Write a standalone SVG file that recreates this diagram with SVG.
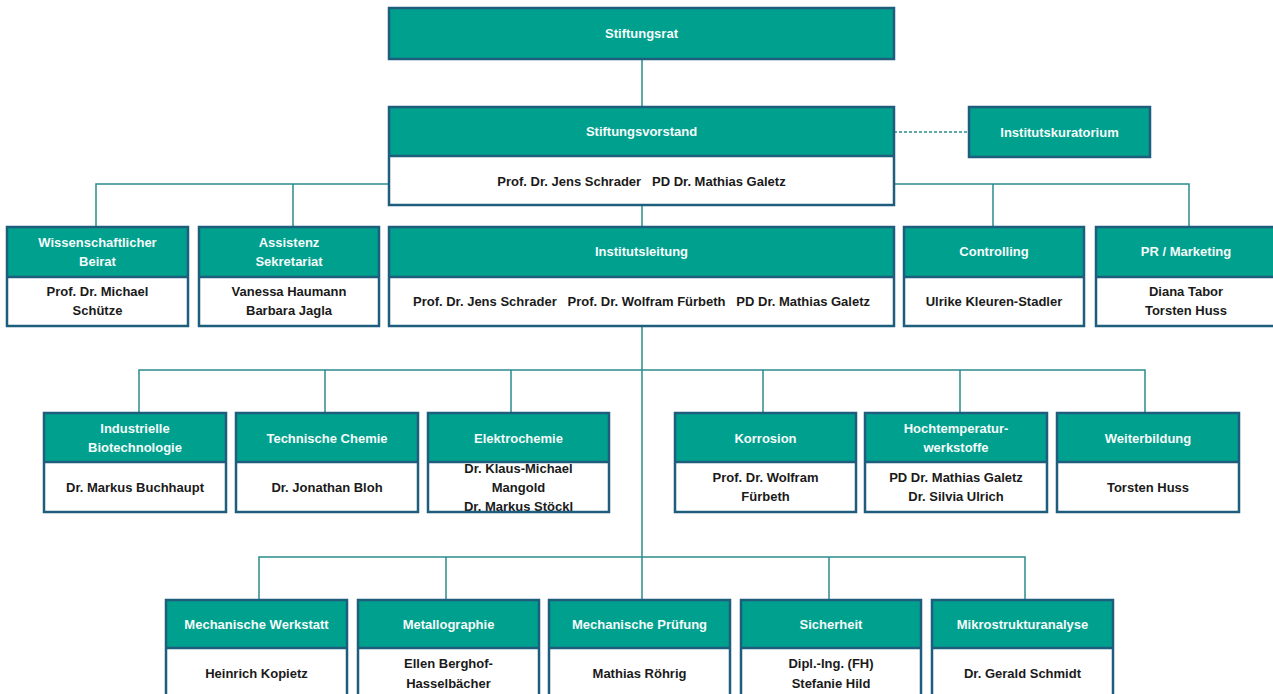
<svg xmlns="http://www.w3.org/2000/svg" width="1273" height="694" viewBox="0 0 1273 694">
<style>
.hd{fill:#00A08E;}
.bd{fill:#ffffff;}
.fr{fill:none;stroke:#1E5E7C;stroke-width:2.5;}
.dv{stroke:#1E5E7C;stroke-width:2.5;}
.ht{font-family:"Liberation Sans",Arial,sans-serif;font-weight:bold;font-size:13px;fill:#F4FBFA;text-anchor:middle;}
.bt{font-family:"Liberation Sans",Arial,sans-serif;font-weight:bold;font-size:13px;fill:#1A1A1A;text-anchor:middle;}
.cn{fill:none;stroke:#2B8C8E;stroke-width:1.5;}
</style>
<rect width="1273" height="694" fill="#ffffff"/>
<g id="connectors">
<path class="cn" d="M642,59V107M642,205V227M642,326V600"/>
<path class="cn" d="M96,227V184H1189V227M293,184V227M993,184V227"/>
<path class="cn" d="M139,413V370H1145V413M325,370V413M511,370V413M763,370V413M960,370V413"/>
<path class="cn" d="M259,600V557H1025V600M446,557V600M829,557V600"/>
<path class="cn" d="M894,132H969" stroke-dasharray="3,2"/>
</g>
<g id="stiftungsrat">
<rect class="hd" x="389" y="8" width="505" height="51"/>
<rect class="fr" x="389" y="8" width="505" height="51"/>
<text class="ht" x="641.5" y="38">Stiftungsrat</text>
</g>
<g id="stiftungsvorstand">
<rect class="hd" x="389" y="107" width="505" height="49"/>
<rect class="bd" x="389" y="156" width="505" height="49"/>
<line class="dv" x1="389" y1="156" x2="894" y2="156"/>
<rect class="fr" x="389" y="107" width="505" height="98"/>
<text class="ht" x="641.5" y="136">Stiftungsvorstand</text>
<text class="bt" x="641.5" y="186" xml:space="preserve">Prof. Dr. Jens Schrader   PD Dr. Mathias Galetz</text>
</g>
<g id="institutskuratorium">
<rect class="hd" x="969" y="107" width="181" height="50"/>
<rect class="fr" x="969" y="107" width="181" height="50"/>
<text class="ht" x="1059.5" y="136.5">Institutskuratorium</text>
</g>
<g id="wissenschaftlicher-beirat">
<rect class="hd" x="7" y="227" width="181" height="50"/>
<rect class="bd" x="7" y="277" width="181" height="49"/>
<line class="dv" x1="7" y1="277" x2="188" y2="277"/>
<rect class="fr" x="7" y="227" width="181" height="99"/>
<text class="ht" x="97.5" y="247">Wissenschaftlicher</text>
<text class="ht" x="97.5" y="266">Beirat</text>
<text class="bt" x="97.5" y="296">Prof. Dr. Michael</text>
<text class="bt" x="97.5" y="315">Schütze</text>
</g>
<g id="assistenz-sekretariat">
<rect class="hd" x="199" y="227" width="180" height="50"/>
<rect class="bd" x="199" y="277" width="180" height="49"/>
<line class="dv" x1="199" y1="277" x2="379" y2="277"/>
<rect class="fr" x="199" y="227" width="180" height="99"/>
<text class="ht" x="289" y="247">Assistenz</text>
<text class="ht" x="289" y="266">Sekretariat</text>
<text class="bt" x="289" y="296">Vanessa Haumann</text>
<text class="bt" x="289" y="315">Barbara Jagla</text>
</g>
<g id="institutsleitung">
<rect class="hd" x="389" y="227" width="505" height="50"/>
<rect class="bd" x="389" y="277" width="505" height="49"/>
<line class="dv" x1="389" y1="277" x2="894" y2="277"/>
<rect class="fr" x="389" y="227" width="505" height="99"/>
<text class="ht" x="641.5" y="256">Institutsleitung</text>
<text class="bt" x="641.5" y="306" xml:space="preserve">Prof. Dr. Jens Schrader   Prof. Dr. Wolfram Fürbeth   PD Dr. Mathias Galetz</text>
</g>
<g id="controlling">
<rect class="hd" x="904" y="227" width="180" height="50"/>
<rect class="bd" x="904" y="277" width="180" height="49"/>
<line class="dv" x1="904" y1="277" x2="1084" y2="277"/>
<rect class="fr" x="904" y="227" width="180" height="99"/>
<text class="ht" x="994" y="256">Controlling</text>
<text class="bt" x="994" y="306">Ulrike Kleuren-Stadler</text>
</g>
<g id="pr-marketing">
<rect class="hd" x="1096" y="227" width="181" height="50"/>
<rect class="bd" x="1096" y="277" width="181" height="49"/>
<line class="dv" x1="1096" y1="277" x2="1277" y2="277"/>
<rect class="fr" x="1096" y="227" width="181" height="99"/>
<text class="ht" x="1186" y="256">PR / Marketing</text>
<text class="bt" x="1186" y="296">Diana Tabor</text>
<text class="bt" x="1186" y="315">Torsten Huss</text>
</g>
<g id="industrielle-biotechnologie">
<rect class="hd" x="44" y="413" width="182" height="49"/>
<rect class="bd" x="44" y="462" width="182" height="50"/>
<line class="dv" x1="44" y1="462" x2="226" y2="462"/>
<rect class="fr" x="44" y="413" width="182" height="99"/>
<text class="ht" x="135" y="433">Industrielle</text>
<text class="ht" x="135" y="452">Biotechnologie</text>
<text class="bt" x="135" y="492">Dr. Markus Buchhaupt</text>
</g>
<g id="technische-chemie">
<rect class="hd" x="236" y="413" width="182" height="49"/>
<rect class="bd" x="236" y="462" width="182" height="50"/>
<line class="dv" x1="236" y1="462" x2="418" y2="462"/>
<rect class="fr" x="236" y="413" width="182" height="99"/>
<text class="ht" x="327" y="442.5">Technische Chemie</text>
<text class="bt" x="327" y="492">Dr. Jonathan Bloh</text>
</g>
<g id="elektrochemie">
<rect class="hd" x="428" y="413" width="181" height="49"/>
<rect class="bd" x="428" y="462" width="181" height="50"/>
<line class="dv" x1="428" y1="462" x2="609" y2="462"/>
<text class="ht" x="518.5" y="442.5">Elektrochemie</text>
<text class="bt" x="518.5" y="473">Dr. Klaus-Michael</text>
<text class="bt" x="518.5" y="492">Mangold</text>
<text class="bt" x="518.5" y="511">Dr. Markus Stöckl</text>
<rect class="fr" x="428" y="413" width="181" height="99"/>
</g>
<g id="korrosion">
<rect class="hd" x="675" y="413" width="181" height="49"/>
<rect class="bd" x="675" y="462" width="181" height="50"/>
<line class="dv" x1="675" y1="462" x2="856" y2="462"/>
<rect class="fr" x="675" y="413" width="181" height="99"/>
<text class="ht" x="765.5" y="442.5">Korrosion</text>
<text class="bt" x="765.5" y="482">Prof. Dr. Wolfram</text>
<text class="bt" x="765.5" y="501">Fürbeth</text>
</g>
<g id="hochtemperaturwerkstoffe">
<rect class="hd" x="865" y="413" width="182" height="49"/>
<rect class="bd" x="865" y="462" width="182" height="50"/>
<line class="dv" x1="865" y1="462" x2="1047" y2="462"/>
<rect class="fr" x="865" y="413" width="182" height="99"/>
<text class="ht" x="956" y="433">Hochtemperatur-</text>
<text class="ht" x="956" y="452">werkstoffe</text>
<text class="bt" x="956" y="482">PD Dr. Mathias Galetz</text>
<text class="bt" x="956" y="501">Dr. Silvia Ulrich</text>
</g>
<g id="weiterbildung">
<rect class="hd" x="1057" y="413" width="182" height="49"/>
<rect class="bd" x="1057" y="462" width="182" height="50"/>
<line class="dv" x1="1057" y1="462" x2="1239" y2="462"/>
<rect class="fr" x="1057" y="413" width="182" height="99"/>
<text class="ht" x="1148" y="442.5">Weiterbildung</text>
<text class="bt" x="1148" y="492">Torsten Huss</text>
</g>
<g id="mechanische-werkstatt">
<rect class="hd" x="166" y="600" width="181" height="48"/>
<rect class="bd" x="166" y="648" width="181" height="62"/>
<line class="dv" x1="166" y1="648" x2="347" y2="648"/>
<rect class="fr" x="166" y="600" width="181" height="110"/>
<text class="ht" x="256.5" y="628.5">Mechanische Werkstatt</text>
<text class="bt" x="256.5" y="678">Heinrich Kopietz</text>
</g>
<g id="metallographie">
<rect class="hd" x="358" y="600" width="181" height="48"/>
<rect class="bd" x="358" y="648" width="181" height="62"/>
<line class="dv" x1="358" y1="648" x2="539" y2="648"/>
<rect class="fr" x="358" y="600" width="181" height="110"/>
<text class="ht" x="448.5" y="628.5">Metallographie</text>
<text class="bt" x="448.5" y="668">Ellen Berghof-</text>
<text class="bt" x="448.5" y="688">Hasselbächer</text>
</g>
<g id="mechanische-pruefung">
<rect class="hd" x="549" y="600" width="181" height="48"/>
<rect class="bd" x="549" y="648" width="181" height="62"/>
<line class="dv" x1="549" y1="648" x2="730" y2="648"/>
<rect class="fr" x="549" y="600" width="181" height="110"/>
<text class="ht" x="639.5" y="628.5">Mechanische Prüfung</text>
<text class="bt" x="639.5" y="678">Mathias Röhrig</text>
</g>
<g id="sicherheit">
<rect class="hd" x="741" y="600" width="180" height="48"/>
<rect class="bd" x="741" y="648" width="180" height="62"/>
<line class="dv" x1="741" y1="648" x2="921" y2="648"/>
<rect class="fr" x="741" y="600" width="180" height="110"/>
<text class="ht" x="831" y="628.5">Sicherheit</text>
<text class="bt" x="831" y="668">Dipl.-Ing. (FH)</text>
<text class="bt" x="831" y="688">Stefanie Hild</text>
</g>
<g id="mikrostrukturanalyse">
<rect class="hd" x="932" y="600" width="181" height="48"/>
<rect class="bd" x="932" y="648" width="181" height="62"/>
<line class="dv" x1="932" y1="648" x2="1113" y2="648"/>
<rect class="fr" x="932" y="600" width="181" height="110"/>
<text class="ht" x="1022.5" y="628.5">Mikrostrukturanalyse</text>
<text class="bt" x="1022.5" y="678">Dr. Gerald Schmidt</text>
</g>
</svg>
